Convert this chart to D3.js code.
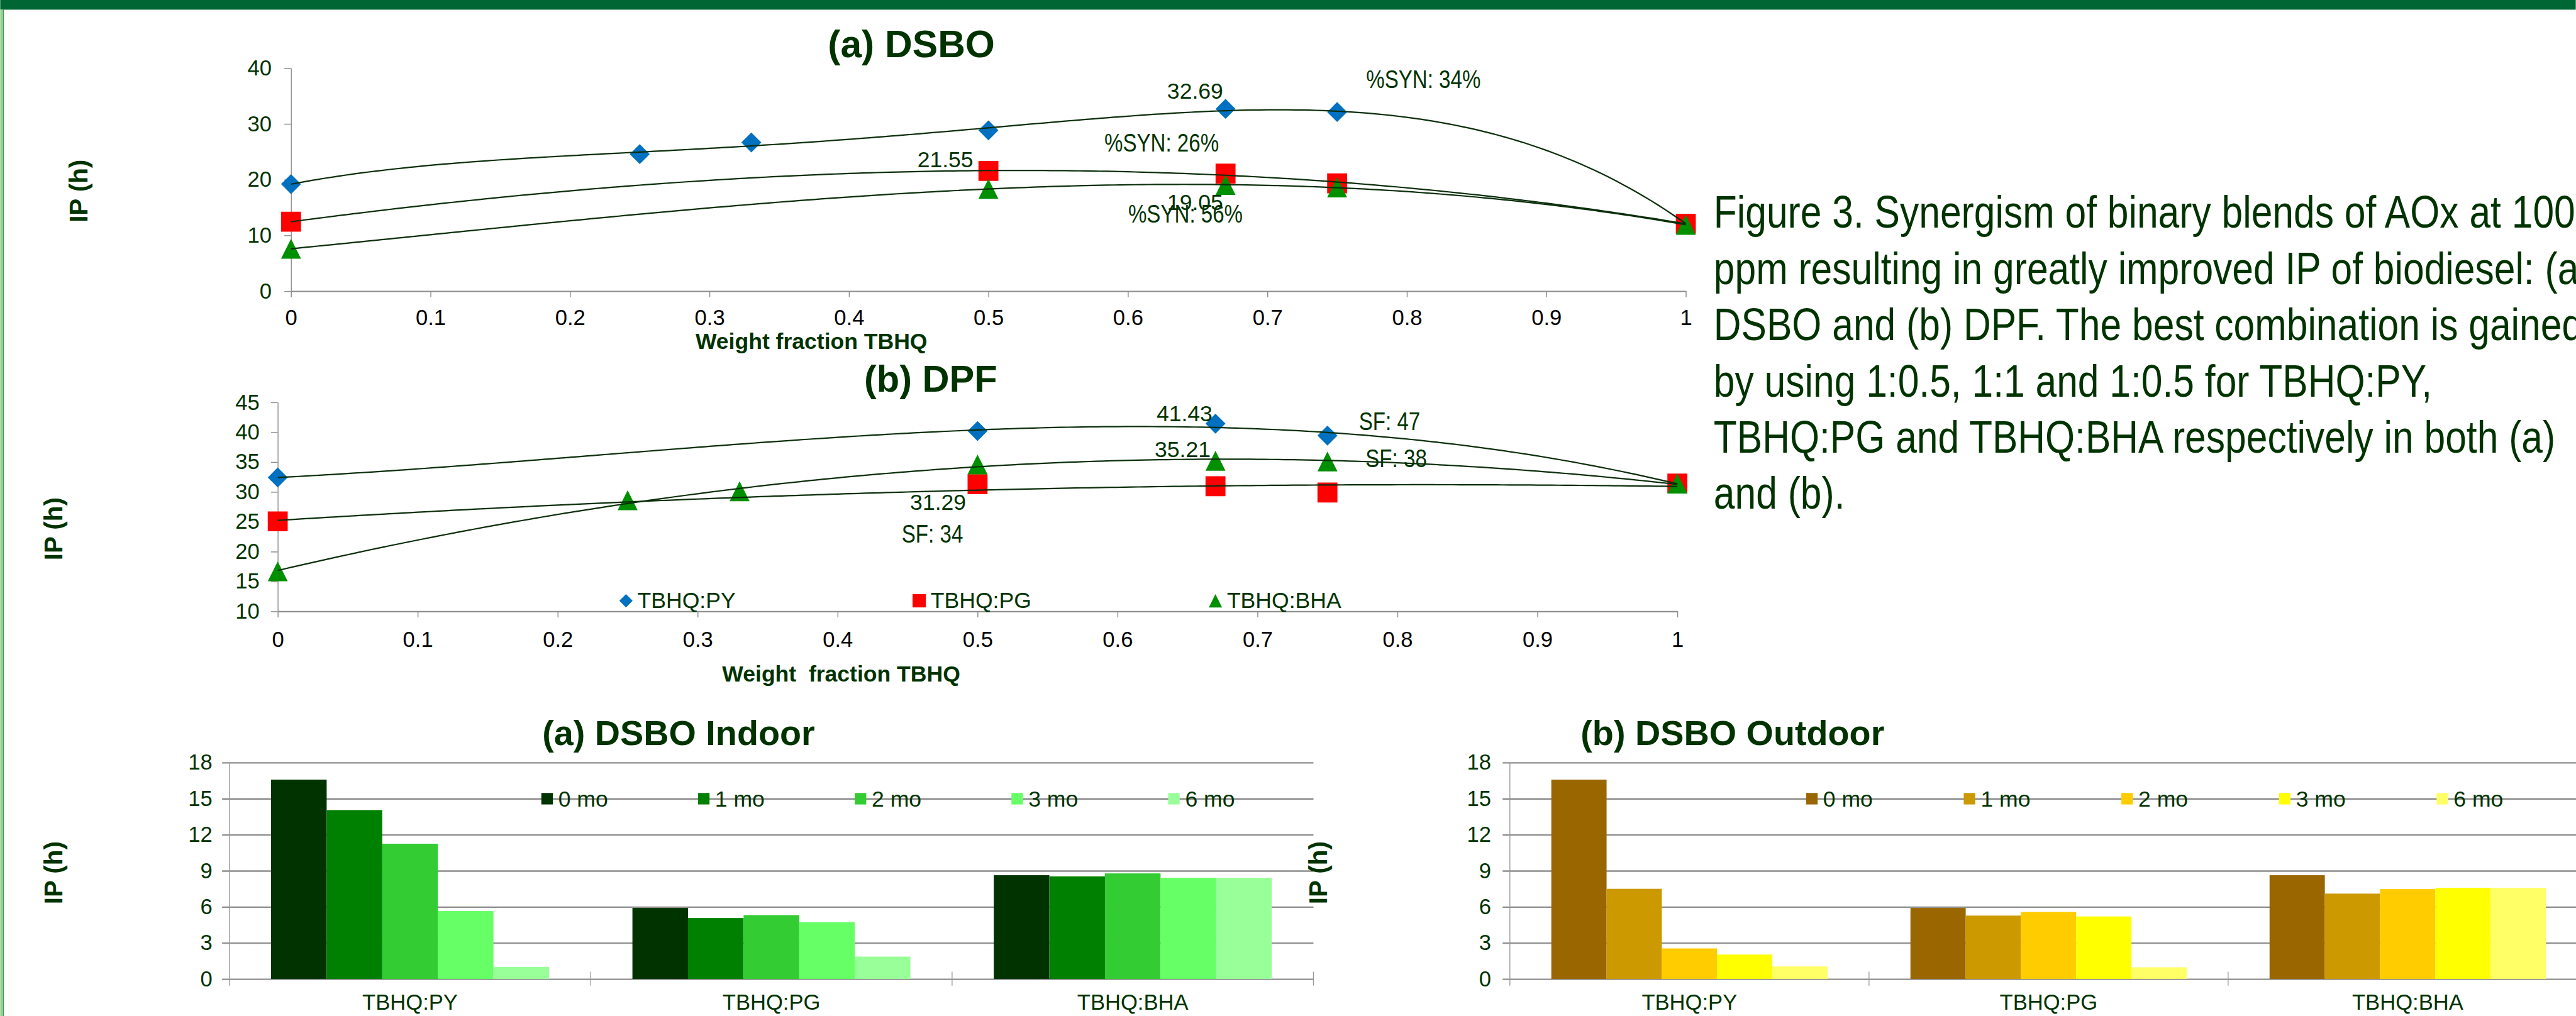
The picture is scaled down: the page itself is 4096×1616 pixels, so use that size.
<!DOCTYPE html>
<html><head><meta charset="utf-8">
<script src="https://cdn.jsdelivr.net/npm/d3@7"></script>
<style>html,body{margin:0;padding:0;background:#fff;overflow:hidden}</style>
</head><body>
<svg id="c" width="4096" height="1616" viewBox="0 0 4260 1681"></svg>
<script>
// ---------------- DATA ----------------
const seriesNames = ["TBHQ:PY", "TBHQ:PG", "TBHQ:BHA"];
const fracTicks = [0, 0.1, 0.2, 0.3, 0.4, 0.5, 0.6, 0.7, 0.8, 0.9, 1];

// (a) DSBO
const dsboPY_x = [0, 0.25, 0.33, 0.5, 0.67, 0.75, 1];
const dsboPY_ip = [19.2, 24.57, 26.67, 28.84, 32.69, 32.13, 12.1];
const dsboPG_x = [0, 0.5, 0.67, 0.75, 1];
const dsboPG_ip = [12.45, 21.55, 21.07, 19.34, 12.1];
const dsboBHA_x = [0, 0.5, 0.67, 0.75, 1];
const dsboBHA_ip = [7.6, 18.34, 19.05, 18.6, 11.9];
const dsboTrendOrder = [4, 3, 3];
const dsboYTicks = [0, 10, 20, 30, 40];
const dsboNotes = ["32.69", "%SYN: 34%", "21.55", "%SYN: 26%", "19.05", "%SYN: 56%"];

// (b) DPF
const dpfPY_x = [0, 0.5, 0.67, 0.75, 1];
const dpfPY_ip = [32.42, 40.2, 41.43, 39.44, 31.4];
const dpfPG_x = [0, 0.5, 0.67, 0.75, 1];
const dpfPG_ip = [25.07, 31.29, 30.96, 29.9, 31.4];
const dpfBHA_x = [0, 0.25, 0.33, 0.5, 0.67, 0.75, 1];
const dpfBHA_ip = [16.7, 28.6, 30.1, 34.6, 35.21, 35.1, 31.4];
const dpfTrendOrder = [3, 2, 2];
const dpfYTicks = [10, 15, 20, 25, 30, 35, 40, 45];
const dpfNotes = ["41.43", "SF: 47", "35.21", "SF: 38", "31.29", "SF: 34"];

// storage bar charts
const barCategories = ["TBHQ:PY", "TBHQ:PG", "TBHQ:BHA"];
const storageMonths = ["0 mo", "1 mo", "2 mo", "3 mo", "6 mo"];
const indoorIP = [
  [16.58, 14.05, 11.25, 5.65, 1.0],
  [5.91, 5.07, 5.31, 4.72, 1.86],
  [8.63, 8.53, 8.78, 8.41, 8.41]
];
const outdoorIP = [
  [16.58, 7.5, 2.54, 2.03, 1.04],
  [5.91, 5.27, 5.57, 5.2, 0.97],
  [8.63, 7.1, 7.48, 7.58, 7.58]
];
const barTicks = [0, 3, 6, 9, 12, 15, 18];

const captionLines = [
  "Figure 3. Synergism of binary blends of AOx at 1000",
  "ppm resulting in greatly improved IP of biodiesel: (a)",
  "DSBO and (b) DPF. The best combination is gained",
  "by using 1:0.5, 1:1 and 1:0.5 for TBHQ:PY,",
  "TBHQ:PG and TBHQ:BHA respectively in both (a)",
  "and (b)."
];

// ---------------- STYLE ----------------
const FONT = "'Liberation Sans', Arial, Helvetica, sans-serif";
const TXT = "#003300";
const markerColors = ["#0070C0", "#FF0000", "#008F00"];
const markerShapes = ["diamond", "square", "triangle"];
const indoorColors = ["#003300", "#008000", "#33CC33", "#66FF66", "#99FF99"];
const outdoorColors = ["#996600", "#CC9900", "#FFCC00", "#FFFF00", "#FFFF66"];
const AXIS = "#8c8c8c";

const svg = d3.select("#c");
svg.append("rect").attr("width", 4260).attr("height", 1681).attr("fill", "#fff");
svg.append("rect").attr("x", 0).attr("y", 0).attr("width", 4260).attr("height", 16).attr("fill", "#006633");
svg.append("rect").attr("x", 0).attr("y", 16).attr("width", 5).attr("height", 1665).attr("fill", "#93cf93");
svg.append("line").attr("x1", 5.5).attr("x2", 5.5).attr("y1", 16).attr("y2", 1681).attr("stroke", "#3f8f3f").attr("stroke-width", 1.2);

function txt(g, x, y, s, o) {
  o = o || {};
  const sx = o.sx || 1;
  const gg = g.append("g").attr("transform", `translate(${x},${y})${o.rot ? " rotate(" + o.rot + ")" : ""} scale(${sx},1)`);
  return gg.append("text")
    .attr("text-anchor", o.anchor || "start")
    .attr("dominant-baseline", o.base || "auto")
    .attr("font-family", FONT)
    .attr("font-size", o.size || 37)
    .attr("font-weight", o.bold ? "bold" : "normal")
    .attr("fill", o.fill || TXT)
    .style("white-space", "pre")
    .text(s);
}

function markerPath(shape, s) {
  if (shape === "diamond") return `M0,${-s}L${s},0L0,${s}L${-s},0Z`;
  if (shape === "square") return `M${-s},${-s}H${s}V${s}H${-s}Z`;
  return `M0,${-s}L${s},${s}H${-s}Z`;
}

function polyfit(xs, ys, order) {
  const n = order + 1;
  const M = [];
  for (let i = 0; i < n; i++) {
    const row = [];
    for (let j = 0; j < n; j++) row.push(d3.sum(xs, v => Math.pow(v, i + j)));
    row.push(d3.sum(xs.map((v, k) => ys[k] * Math.pow(v, i))));
    M.push(row);
  }
  for (let c = 0; c < n; c++) {
    let p = c;
    for (let r = c + 1; r < n; r++) if (Math.abs(M[r][c]) > Math.abs(M[p][c])) p = r;
    [M[c], M[p]] = [M[p], M[c]];
    for (let r = 0; r < n; r++) if (r !== c) {
      const f = M[r][c] / M[c][c];
      for (let k = c; k <= n; k++) M[r][k] -= f * M[c][k];
    }
  }
  return M.map((row, i) => row[n] / row[i]);
}

function styleAxis(a, color, dw) {
  a.attr("font-family", FONT).attr("font-size", 36);
  a.select(".domain").attr("stroke", AXIS).attr("stroke-width", dw);
  a.selectAll(".tick line").attr("stroke", AXIS).attr("stroke-width", 1.5);
  a.selectAll(".tick text").attr("fill", color);
}

function scatter(o) {
  const g = svg.append("g");
  const x = d3.scaleLinear().domain([0, 1]).range(o.xRange);
  const y = d3.scaleLinear().domain(o.yDomain).range(o.yRange);
  const ya = g.append("g").attr("transform", `translate(${o.xRange[0]},0)`)
    .call(d3.axisLeft(y).tickValues(o.yTicks).tickSize(11).tickSizeOuter(0).tickPadding(o.yPad));
  styleAxis(ya, TXT, 1.4);
  const xa = g.append("g").attr("transform", `translate(0,${o.yRange[0]})`)
    .call(d3.axisBottom(x).tickValues(fracTicks).tickSize(10).tickSizeOuter(0).tickPadding(o.xPad).tickFormat(d => String(d)));
  styleAxis(xa, "#000", 2.2);
  o.series.forEach((s, i) => {
    g.append("g").selectAll("path").data(s.x.map((v, k) => [v, s.y[k]])).join("path")
      .attr("transform", d => `translate(${x(d[0])},${y(d[1])})`)
      .attr("d", markerPath(markerShapes[i], 16.5))
      .attr("fill", markerColors[i]);
  });
  o.series.forEach((s, i) => {
    const c = polyfit(s.x, s.y, o.orders[i]);
    const pts = d3.range(0, 201).map(k => {
      const v = k / 200;
      return [v, c.reduce((acc, ci, p) => acc + ci * Math.pow(v, p), 0)];
    });
    g.append("path").attr("d", d3.line().x(d => x(d[0])).y(d => y(d[1]))(pts))
      .attr("fill", "none").attr("stroke", "#0b2e0b").attr("stroke-width", 2.3);
  });
  return { g, x, y };
}

// ---------------- (a) DSBO ----------------
const A = scatter({
  xRange: [481, 2788], yDomain: [0, 40], yRange: [481.7, 112.7], yTicks: dsboYTicks,
  yPad: 21, xPad: 21,
  series: [{ x: dsboPY_x, y: dsboPY_ip }, { x: dsboPG_x, y: dsboPG_ip }, { x: dsboBHA_x, y: dsboBHA_ip }],
  orders: dsboTrendOrder
});
txt(A.g, 1507, 95, "(a) DSBO", { anchor: "middle", size: 63, bold: true });
txt(A.g, 1150, 577, "Weight fraction TBHQ", { size: 37, bold: true });
txt(A.g, 130, 316, "IP (h)", { anchor: "middle", base: "central", rot: -90, size: 42, bold: true });
const NSX = 0.82;
txt(A.g, A.x(0.67) - 4, A.y(32.69) - 17, dsboNotes[0], { anchor: "end" });
txt(A.g, A.x(0.75) + 48, A.y(32.13) - 40, dsboNotes[1], { size: 42, sx: NSX });
txt(A.g, A.x(0.5) - 25, A.y(21.55) - 6, dsboNotes[2], { anchor: "end" });
txt(A.g, A.x(0.67) - 11, A.y(21.07) - 37, dsboNotes[3], { anchor: "end", size: 42, sx: NSX });
txt(A.g, A.x(0.67) - 4, A.y(19.05) + 41, dsboNotes[4], { anchor: "end" });
txt(A.g, A.x(0.67) - 161, A.y(19.05) + 62, dsboNotes[5], { size: 42, sx: NSX });

// ---------------- (b) DPF ----------------
const B = scatter({
  xRange: [459, 2774], yDomain: [10, 45], yRange: [1011.5, 665.7], yTicks: dpfYTicks,
  yPad: 19, xPad: 23,
  series: [{ x: dpfPY_x, y: dpfPY_ip }, { x: dpfPG_x, y: dpfPG_ip }, { x: dpfBHA_x, y: dpfBHA_ip }],
  orders: dpfTrendOrder
});
txt(B.g, 1539, 648, "(b) DPF", { anchor: "middle", size: 62, bold: true });
txt(B.g, 1391, 1128, "Weight  fraction TBHQ", { anchor: "middle", size: 37, bold: true });
txt(B.g, 88, 875, "IP (h)", { anchor: "middle", base: "central", rot: -90, size: 42, bold: true });
txt(B.g, B.x(0.67) - 5, B.y(41.43) - 4, dpfNotes[0], { anchor: "end" });
txt(B.g, B.x(0.75) + 52, B.y(39.44) - 9, dpfNotes[1], { size: 42, sx: NSX });
txt(B.g, B.x(0.67) - 8, B.y(35.21) - 6, dpfNotes[2], { anchor: "end" });
txt(B.g, B.x(0.75) + 63, B.y(35.1) + 9.5, dpfNotes[3], { size: 42, sx: NSX });
txt(B.g, B.x(0.5) - 19, B.y(31.29) + 42, dpfNotes[4], { anchor: "end" });
txt(B.g, B.x(0.5) - 24, B.y(31.29) + 97, dpfNotes[5], { anchor: "end", size: 42, sx: NSX });
// legend
const legX = [1035, 1520, 2010];
seriesNames.forEach((nm, i) => {
  B.g.append("path").attr("transform", `translate(${legX[i]},994)`).attr("d", markerPath(markerShapes[i], 11)).attr("fill", markerColors[i]);
  txt(B.g, legX[i] + 19, 1005.6, nm, { size: 37 });
});

// ---------------- storage bar charts ----------------
function bars(o) {
  const g = svg.append("g");
  const xEnd = o.x0 + o.bandW * barCategories.length;
  const x = d3.scaleBand().domain(barCategories).range([o.x0, xEnd]);
  const y = d3.scaleLinear().domain([0, 18]).range([1619.7, 1261.7]);
  const ya = g.append("g").attr("transform", `translate(${o.x0},0)`)
    .call(d3.axisLeft(y).tickValues(barTicks).tickSize(-(xEnd - o.x0)).tickSizeOuter(0).tickPadding(o.yPad));
  ya.select(".domain").remove();
  ya.attr("font-family", FONT).attr("font-size", 36);
  ya.selectAll(".tick line").attr("x1", -12).attr("stroke", "#8e8e8e").attr("stroke-width", 2.4);
  ya.selectAll(".tick text").attr("fill", TXT);
  g.append("line").attr("x1", o.x0).attr("x2", o.x0).attr("y1", y(18)).attr("y2", y(0) + 11)
    .attr("stroke", "#9a9a9a").attr("stroke-width", 1.4);
  const bounds = barCategories.slice(1).map(c => x(c)).concat([xEnd]);
  g.selectAll("line.cb").data(bounds).join("line").attr("class", "cb")
    .attr("x1", d => d).attr("x2", d => d).attr("y1", y(0) - 12).attr("y2", y(0) + 11)
    .attr("stroke", "#9a9a9a").attr("stroke-width", 1.4);
  const groupW = x.bandwidth() / 1.3;
  const off = (x.bandwidth() - groupW) / 2;
  const inner = d3.scaleBand().domain(storageMonths).range([off, off + groupW]);
  o.values.forEach((row, ci) => {
    g.append("g").selectAll("rect").data(row).join("rect")
      .attr("x", (d, j) => x(barCategories[ci]) + inner(storageMonths[j]))
      .attr("width", inner.bandwidth())
      .attr("y", d => y(d))
      .attr("height", d => y(0) - y(d))
      .attr("fill", (d, j) => o.colors[j]);
  });
  const xa = g.append("g").attr("transform", `translate(0,${y(0)})`)
    .call(d3.axisBottom(x).tickSize(0).tickPadding(25));
  xa.select(".domain").remove();
  xa.attr("font-family", FONT).attr("font-size", 36);
  xa.selectAll(".tick text").attr("fill", TXT);
  storageMonths.forEach((m, j) => {
    const lx = o.legX0 + j * o.legStep;
    g.append("rect").attr("x", lx).attr("y", 1312).attr("width", 19).attr("height", 19).attr("fill", o.colors[j]);
    txt(g, lx + 28, 1335, m, { size: 37 });
  });
  txt(g, o.titleX, 1233, o.title, { anchor: o.titleAnchor, size: 58, bold: true });
  txt(g, o.ipX, 1444, "IP (h)", { anchor: "middle", base: "central", rot: -90, size: 42, bold: true });
}

bars({ x0: 379, bandW: 597.7, values: indoorIP, colors: indoorColors, yPad: 28,
  legX0: 895, legStep: 259.2, title: "(a) DSBO Indoor", titleX: 1122, titleAnchor: "middle", ipX: 88 });
bars({ x0: 2497, bandW: 594, values: outdoorIP, colors: outdoorColors, yPad: 31,
  legX0: 2987, legStep: 260.7, title: "(b) DSBO Outdoor", titleX: 2614, titleAnchor: "start", ipX: 2180 });

// ---------------- caption ----------------
const capG = svg.append("g");
captionLines.forEach((line, i) => {
  txt(capG, 2834, 377 + i * 93, line, { size: 76, sx: 0.829 });
});
</script>
</body></html>
